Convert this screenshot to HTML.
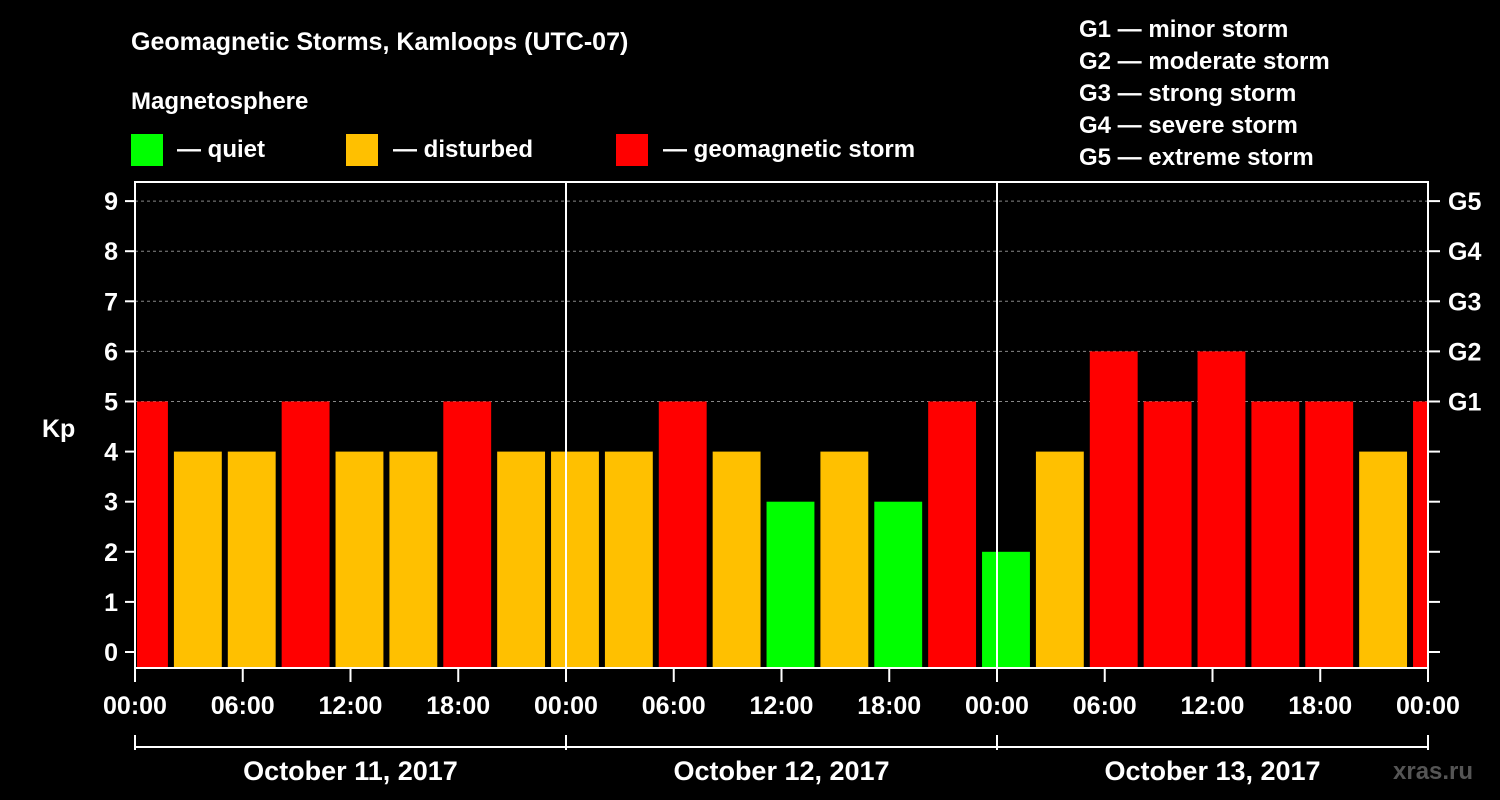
<!DOCTYPE html>
<html><head><meta charset="utf-8"><style>
body{margin:0;background:#000;}
svg{display:block;font-family:"Liberation Sans",Arial,sans-serif;font-weight:bold;}
</style></head><body>
<svg id="chart" width="1500" height="800" viewBox="0 0 1500 800">
<rect width="1500" height="800" fill="#000"/>
<text x="131" y="50" fill="#fff" font-size="25">Geomagnetic Storms, Kamloops (UTC-07)</text>
<text x="131" y="109" fill="#fff" font-size="24">Magnetosphere</text>
<g><rect x="131" y="134" width="32" height="32" fill="#00ff00"/><text x="177" y="157" fill="#fff" font-size="24">— quiet</text></g>
<g><rect x="346" y="134" width="32" height="32" fill="#ffc000"/><text x="393" y="157" fill="#fff" font-size="24">— disturbed</text></g>
<g><rect x="616" y="134" width="32" height="32" fill="#ff0000"/><text x="663" y="157" fill="#fff" font-size="24">— geomagnetic storm</text></g>
<g font-size="24" fill="#fff">
<text x="1079" y="37">G1 — minor storm</text>
<text x="1079" y="69">G2 — moderate storm</text>
<text x="1079" y="101">G3 — strong storm</text>
<text x="1079" y="133">G4 — severe storm</text>
<text x="1079" y="165">G5 — extreme storm</text>
</g>
<g id="grid"></g>
<g id="bars"></g>
<g id="axes"></g>
<text x="42" y="437" fill="#fff" font-size="25">Kp</text>
<text x="1393" y="779" fill="#555" font-size="24">xras.ru</text>
</svg>
<script>
const kpValues=[5,4,4,5,4,4,5,4,4,4,5,4,3,4,3,5,2,4,6,5,6,5,5,4,5];
const startHour=-1;
const yTicks=[0,1,2,3,4,5,6,7,8,9];
const gLabels=[["G1",5],["G2",6],["G3",7],["G4",8],["G5",9]];
const xTickLabels=["00:00","06:00","12:00","18:00","00:00","06:00","12:00","18:00","00:00","06:00","12:00","18:00","00:00"];
const dayLabels=["October 11, 2017","October 12, 2017","October 13, 2017"];
const NS="http://www.w3.org/2000/svg";
const X0=135,X1=1428,TOP=182,BOT=668;
const x=h=>X0+h*(X1-X0)/72;
const y=v=>652-v*50.1;
function mk(tag,attrs,parent){const e=document.createElementNS(NS,tag);for(const k in attrs)e.setAttribute(k,attrs[k]);document.getElementById(parent).appendChild(e);return e;}
const col=v=>v>=5?"#ff0000":(v==4?"#ffc000":"#00ff00");
yTicks.forEach(v=>{if(v>=5){const l=mk("line",{x1:X0,x2:X1,y1:y(v),y2:y(v),stroke:"#888","stroke-dasharray":"3,3"},"grid");

}});
kpValues.forEach((v,i)=>{const h0=startHour+i*3;let a=x(h0)+3,b=x(h0+3)-3;a=Math.max(a,X0+2);b=Math.min(b,X1);
const r=mk("rect",{x:a,y:y(v),width:b-a,height:BOT-y(v),fill:col(v)},"bars");

});
mk("rect",{x:X0,y:TOP,width:X1-X0,height:BOT-TOP,fill:"none",stroke:"#fff","stroke-width":2},"axes");
[24,48].forEach(h=>mk("line",{x1:x(h),x2:x(h),y1:TOP,y2:BOT,stroke:"#fff","stroke-width":2},"axes"));
yTicks.forEach(v=>{mk("line",{x1:X0-10,x2:X0,y1:y(v),y2:y(v),stroke:"#fff","stroke-width":2},"axes");
mk("line",{x1:X1,x2:X1+12,y1:y(v),y2:y(v),stroke:"#fff","stroke-width":2},"axes");
const t=mk("text",{x:X0-17,y:y(v)+9,fill:"#fff","font-size":25,"text-anchor":"end"},"axes");t.textContent=v;

});
gLabels.forEach(([g,v])=>{const t=mk("text",{x:1448,y:y(v)+9,fill:"#fff","font-size":25},"axes");t.textContent=g;

});
xTickLabels.forEach((s,i)=>{const h=i*6;mk("line",{x1:x(h),x2:x(h),y1:BOT,y2:BOT+14,stroke:"#fff","stroke-width":2},"axes");
const t=mk("text",{x:x(h),y:714,fill:"#fff","font-size":25,"text-anchor":"middle"},"axes");t.textContent=s;

});
mk("line",{x1:X0,x2:X1,y1:747,y2:747,stroke:"#fff","stroke-width":2},"axes");
[0,24,48,72].forEach(h=>mk("line",{x1:x(h),x2:x(h),y1:735,y2:750,stroke:"#fff","stroke-width":2},"axes"));
dayLabels.forEach((s,i)=>{const t=mk("text",{x:x(i*24+12),y:780,fill:"#fff","font-size":27,"text-anchor":"middle"},"axes");t.textContent=s;

});
</script>
</body></html>
